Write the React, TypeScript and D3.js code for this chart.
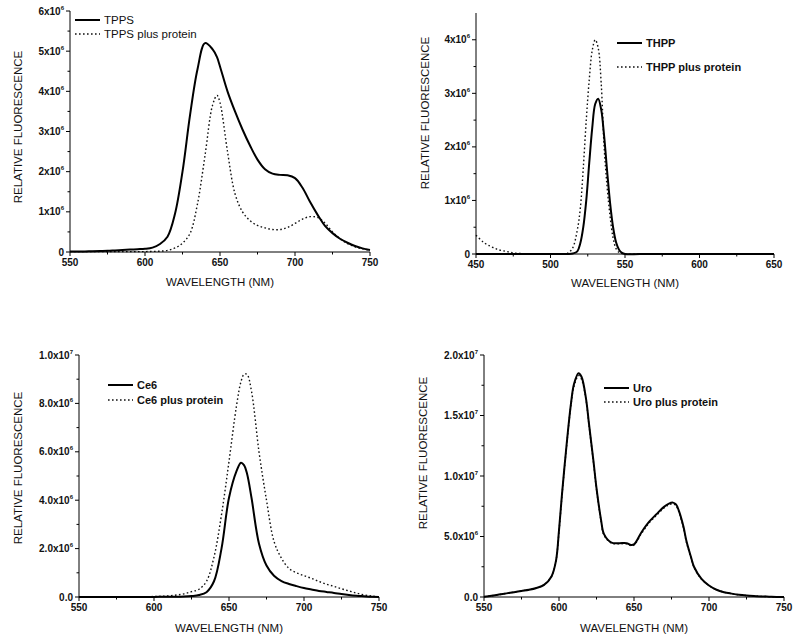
import React from "react";
import * as d3 from "d3";

const FONT = "'Liberation Sans', Arial, Helvetica, sans-serif";

// ---------- Panel A: TPPS (values in units of 1e6) ----------
const TPPS_WL = [550, 555, 560, 565, 570, 575, 580, 585, 590, 595, 600, 605, 610, 615, 620, 625, 630, 635, 640, 645, 648, 650, 655, 660, 665, 670, 675, 680, 685, 690, 695, 700, 705, 710, 715, 720, 725, 730, 735, 740, 745, 750];
const TPPS = [0.01, 0.01, 0.015, 0.02, 0.025, 0.03, 0.04, 0.05, 0.06, 0.07, 0.08, 0.11, 0.2, 0.38, 0.95, 2.0, 3.4, 4.55, 5.2, 5.05, 4.85, 4.62, 4.0, 3.5, 3.05, 2.65, 2.3, 2.06, 1.95, 1.92, 1.91, 1.84, 1.6, 1.25, 0.93, 0.65, 0.47, 0.33, 0.23, 0.15, 0.09, 0.05];
const TPPS_PROTEIN = [0.01, 0.01, 0.01, 0.01, 0.01, 0.01, 0.01, 0.01, 0.01, 0.01, 0.01, 0.015, 0.02, 0.04, 0.1, 0.22, 0.46, 1.2, 2.4, 3.65, 3.9, 3.72, 2.5, 1.45, 1.0, 0.78, 0.66, 0.6, 0.56, 0.56, 0.61, 0.71, 0.82, 0.88, 0.86, 0.72, 0.5, 0.33, 0.21, 0.13, 0.08, 0.05];
const TPPS_Y_TICKS = [0, 1, 2, 3, 4, 5, 6];
const TPPS_Y_LABELS = [["0", ""], ["1x10", "6"], ["2x10", "6"], ["3x10", "6"], ["4x10", "6"], ["5x10", "6"], ["6x10", "6"]];
const TPPS_Y_MINOR = [0.5, 1.5, 2.5, 3.5, 4.5, 5.5];

// ---------- Panel B: THPP (units 1e6) ----------
const THPP_WL = [450, 455, 460, 465, 470, 475, 480, 490, 500, 510, 512, 515, 518, 520, 522, 524, 526, 528, 530, 532, 534, 536, 538, 540, 542, 544, 546, 548, 550, 560, 580, 600, 620, 650];
const THPP = [0, 0, 0, 0, 0, 0, 0, 0, 0, 0, 0, 0.01, 0.05, 0.2, 0.5, 1.0, 1.7, 2.35, 2.8, 2.9, 2.7, 2.2, 1.55, 0.95, 0.5, 0.22, 0.08, 0.02, 0, 0, 0, 0, 0, 0];
const THPP_PROTEIN = [0.35, 0.22, 0.14, 0.08, 0.05, 0.02, 0.01, 0, 0, 0, 0.02, 0.12, 0.45, 0.85, 1.6, 2.5, 3.25, 3.8, 4.0, 3.85, 3.2, 2.0, 1.25, 0.7, 0.3, 0.1, 0.03, 0.01, 0, 0, 0, 0, 0, 0];
const THPP_Y_TICKS = [0, 1, 2, 3, 4];
const THPP_Y_LABELS = [["0", ""], ["1x10", "6"], ["2x10", "6"], ["3x10", "6"], ["4x10", "6"]];
const THPP_Y_MINOR = [0.5, 1.5, 2.5, 3.5];

// ---------- Panel C: Ce6 (units 1e6) ----------
const CE6_WL = [550, 560, 570, 580, 590, 600, 605, 610, 615, 620, 625, 630, 635, 640, 645, 650, 655, 658, 660, 662, 665, 670, 675, 680, 685, 690, 695, 700, 705, 710, 715, 720, 725, 730, 735, 740, 745, 750];
const CE6 = [0, 0, 0, 0, 0, 0.005, 0.007, 0.008, 0.01, 0.02, 0.04, 0.08, 0.2, 0.65, 2.0, 4.1, 5.2, 5.55, 5.45, 5.1, 4.1, 2.2, 1.3, 0.88, 0.66, 0.54, 0.45, 0.37, 0.31, 0.25, 0.21, 0.17, 0.12, 0.08, 0.05, 0.03, 0.01, 0];
const CE6_PROTEIN = [0, 0, 0, 0, 0.005, 0.02, 0.03, 0.05, 0.08, 0.13, 0.22, 0.32, 0.65, 1.65, 3.4, 5.6, 7.9, 8.9, 9.2, 9.2, 8.5, 6.0, 4.0, 2.3, 1.6, 1.18, 1.0, 0.88, 0.77, 0.64, 0.53, 0.44, 0.34, 0.25, 0.16, 0.09, 0.04, 0.01];
const CE6_Y_TICKS = [0, 2, 4, 6, 8, 10];
const CE6_Y_LABELS = [["0.0", ""], ["2.0x10", "6"], ["4.0x10", "6"], ["6.0x10", "6"], ["8.0x10", "6"], ["1.0x10", "7"]];
const CE6_Y_MINOR = [1, 3, 5, 7, 9];

// ---------- Panel D: Uro (units 1e6) ----------
const URO_WL = [550, 555, 560, 565, 570, 575, 580, 585, 590, 595, 598, 600, 602, 605, 608, 610, 613, 615, 618, 620, 623, 625, 628, 630, 635, 640, 645, 648, 650, 655, 660, 665, 670, 673, 676, 678, 680, 683, 685, 688, 690, 695, 700, 705, 710, 715, 720, 725, 730, 735, 740, 745, 750];
const URO = [0.02, 0.1, 0.2, 0.3, 0.4, 0.5, 0.6, 0.75, 1.0, 1.7, 3.0, 5.5, 8.5, 12.5, 16.0, 17.6, 18.5, 18.2, 16.4, 14.3, 11.2, 9.0, 6.4, 5.2, 4.5, 4.45, 4.45, 4.3, 4.35, 5.35, 6.2, 6.85, 7.45, 7.7, 7.8, 7.65, 7.1, 5.8, 4.6, 3.3, 2.5, 1.5, 0.95, 0.6, 0.4, 0.28, 0.18, 0.12, 0.08, 0.05, 0.03, 0.01, 0];
const URO_PROTEIN = [0.02, 0.1, 0.2, 0.3, 0.4, 0.5, 0.6, 0.75, 1.0, 1.7, 3.0, 5.4, 8.4, 12.4, 15.9, 17.4, 18.3, 18.0, 16.3, 14.2, 11.1, 8.9, 6.3, 5.1, 4.45, 4.4, 4.4, 4.25, 4.3, 5.25, 6.1, 6.75, 7.35, 7.6, 7.7, 7.55, 7.0, 5.7, 4.5, 3.25, 2.45, 1.48, 0.94, 0.6, 0.4, 0.28, 0.18, 0.12, 0.08, 0.05, 0.03, 0.01, 0];
const URO_Y_TICKS = [0, 5, 10, 15, 20];
const URO_Y_LABELS = [["0.0", ""], ["5.0x10", "6"], ["1.0x10", "7"], ["1.5x10", "7"], ["2.0x10", "7"]];
const URO_Y_MINOR = [2.5, 7.5, 12.5, 17.5];

const X_TICKS_A = [550, 600, 650, 700, 750];
const X_MINOR_A = [575, 625, 675, 725];
const X_TICKS_B = [450, 500, 550, 600, 650];
const X_MINOR_B = [475, 525, 575, 625];

const NAMES_A = ["TPPS", "TPPS plus protein"];
const NAMES_B = ["THPP", "THPP plus protein"];
const NAMES_C = ["Ce6", "Ce6 plus protein"];
const NAMES_D = ["Uro", "Uro plus protein"];

const Y_TITLE = "RELATIVE FLUORESCENCE";
const X_TITLE = "WAVELENGTH (NM)";

type PanelProps = {
  left: number; right: number; top: number; bottom: number;
  xDomain: [number, number]; yMax: number;
  xTicks: number[]; xMinor: number[];
  yTicks: number[]; yLabels: string[][]; yMinor: number[];
  wl: number[]; solid: number[]; dotted: number[];
  names: string[]; legendX: number; legendY1: number; legendY2: number; legendBold: boolean;
  yTitleX: number; yTitleY: number; xTitleY: number;
};

function Panel(p: PanelProps) {
  const x = d3.scaleLinear().domain(p.xDomain).range([p.left, p.right]);
  const y = d3.scaleLinear().domain([0, p.yMax]).range([p.bottom, p.top]);
  const line = d3
    .line<number>()
    .x((_, i) => x(p.wl[i]))
    .y((d) => Math.min(p.bottom, y(d)))
    .curve(d3.curveCatmullRom.alpha(0.5));
  const textCol = "#111";
  return (
    <g>
      <path d={line(p.dotted) || ""} fill="none" stroke="#111" strokeWidth={1.4} strokeDasharray="1.6,2.4" />
      <path d={line(p.solid) || ""} fill="none" stroke="#000" strokeWidth={2} strokeLinejoin="round" />
      <line x1={p.left} x2={p.left} y1={p.top} y2={p.bottom} stroke="#000" strokeWidth={1} />
      <line x1={p.left} x2={p.right} y1={p.bottom} y2={p.bottom} stroke="#000" strokeWidth={1} />
      {p.yTicks.map((t, i) => (
        <g key={"yt" + i}>
          <line x1={p.left - 4} x2={p.left} y1={y(t)} y2={y(t)} stroke="#000" />
          <text x={p.left - 6} y={y(t) + 3.5} textAnchor="end" fontFamily={FONT} fontWeight="bold" fontSize={10} fill={textCol}>
            {p.yLabels[i][0]}
            {p.yLabels[i][1] ? (
              <tspan fontSize={6} dy={-5}>{p.yLabels[i][1]}</tspan>
            ) : null}
          </text>
        </g>
      ))}
      {p.yMinor.map((t, i) => (
        <line key={"ym" + i} x1={p.left - 2.5} x2={p.left} y1={y(t)} y2={y(t)} stroke="#000" />
      ))}
      {p.xTicks.map((t, i) => (
        <g key={"xt" + i}>
          <line x1={x(t)} x2={x(t)} y1={p.bottom} y2={p.bottom + 4} stroke="#000" />
          <text x={x(t)} y={p.bottom + 14} textAnchor="middle" fontFamily={FONT} fontWeight="bold" fontSize={10} fill={textCol}>
            {t}
          </text>
        </g>
      ))}
      {p.xMinor.map((t, i) => (
        <line key={"xm" + i} x1={x(t)} x2={x(t)} y1={p.bottom} y2={p.bottom + 2.5} stroke="#000" />
      ))}
      <text
        transform={`translate(${p.yTitleX},${p.yTitleY}) rotate(-90)`}
        textAnchor="middle"
        fontFamily={FONT}
        fontSize={11.5}
        fill={textCol}
      >
        {Y_TITLE}
      </text>
      <text x={(p.left + p.right) / 2} y={p.xTitleY} textAnchor="middle" fontFamily={FONT} fontSize={11.5} fill={textCol}>
        {X_TITLE}
      </text>
      <line x1={p.legendX} x2={p.legendX + 25} y1={p.legendY1} y2={p.legendY1} stroke="#000" strokeWidth={2} />
      <line x1={p.legendX} x2={p.legendX + 25} y1={p.legendY2} y2={p.legendY2} stroke="#111" strokeWidth={1.4} strokeDasharray="1.6,2.4" />
      <text x={p.legendX + 29} y={p.legendY1 + 4} fontFamily={FONT} fontSize={p.legendBold ? 11 : 11.5} fontWeight={p.legendBold ? "bold" : "normal"} fill={textCol}>
        {p.names[0]}
      </text>
      <text x={p.legendX + 29} y={p.legendY2 + 4} fontFamily={FONT} fontSize={p.legendBold ? 11 : 11.5} fontWeight={p.legendBold ? "bold" : "normal"} fill={textCol}>
        {p.names[1]}
      </text>
    </g>
  );
}

export default function App() {
  return (
    <svg width={800} height={642} style={{ position: "absolute", left: 0, top: 0, background: "#fff" }}>
      <rect x={0} y={0} width={800} height={642} fill="#fff" />
      <Panel
        left={70} right={370} top={11} bottom={252}
        xDomain={[550, 750]} yMax={6}
        xTicks={X_TICKS_A} xMinor={X_MINOR_A}
        yTicks={TPPS_Y_TICKS} yLabels={TPPS_Y_LABELS} yMinor={TPPS_Y_MINOR}
        wl={TPPS_WL} solid={TPPS} dotted={TPPS_PROTEIN}
        names={NAMES_A} legendX={75} legendY1={20} legendY2={34} legendBold={false}
        yTitleX={22} yTitleY={127} xTitleY={286}
      />
      <Panel
        left={476} right={774} top={13} bottom={254}
        xDomain={[450, 650]} yMax={4.5}
        xTicks={X_TICKS_B} xMinor={X_MINOR_B}
        yTicks={THPP_Y_TICKS} yLabels={THPP_Y_LABELS} yMinor={THPP_Y_MINOR}
        wl={THPP_WL} solid={THPP} dotted={THPP_PROTEIN}
        names={NAMES_B} legendX={617} legendY1={43} legendY2={67} legendBold={true}
        yTitleX={429} yTitleY={113} xTitleY={287}
      />
      <Panel
        left={79} right={379} top={355} bottom={597}
        xDomain={[550, 750]} yMax={10}
        xTicks={X_TICKS_A} xMinor={X_MINOR_A}
        yTicks={CE6_Y_TICKS} yLabels={CE6_Y_LABELS} yMinor={CE6_Y_MINOR}
        wl={CE6_WL} solid={CE6} dotted={CE6_PROTEIN}
        names={NAMES_C} legendX={108} legendY1={385} legendY2={400} legendBold={true}
        yTitleX={22} yTitleY={468} xTitleY={632}
      />
      <Panel
        left={484} right={784} top={355} bottom={597}
        xDomain={[550, 750]} yMax={20}
        xTicks={X_TICKS_A} xMinor={X_MINOR_A}
        yTicks={URO_Y_TICKS} yLabels={URO_Y_LABELS} yMinor={URO_Y_MINOR}
        wl={URO_WL} solid={URO} dotted={URO_PROTEIN}
        names={NAMES_D} legendX={604} legendY1={388} legendY2={402} legendBold={true}
        yTitleX={427} yTitleY={453} xTitleY={632}
      />
    </svg>
  );
}
